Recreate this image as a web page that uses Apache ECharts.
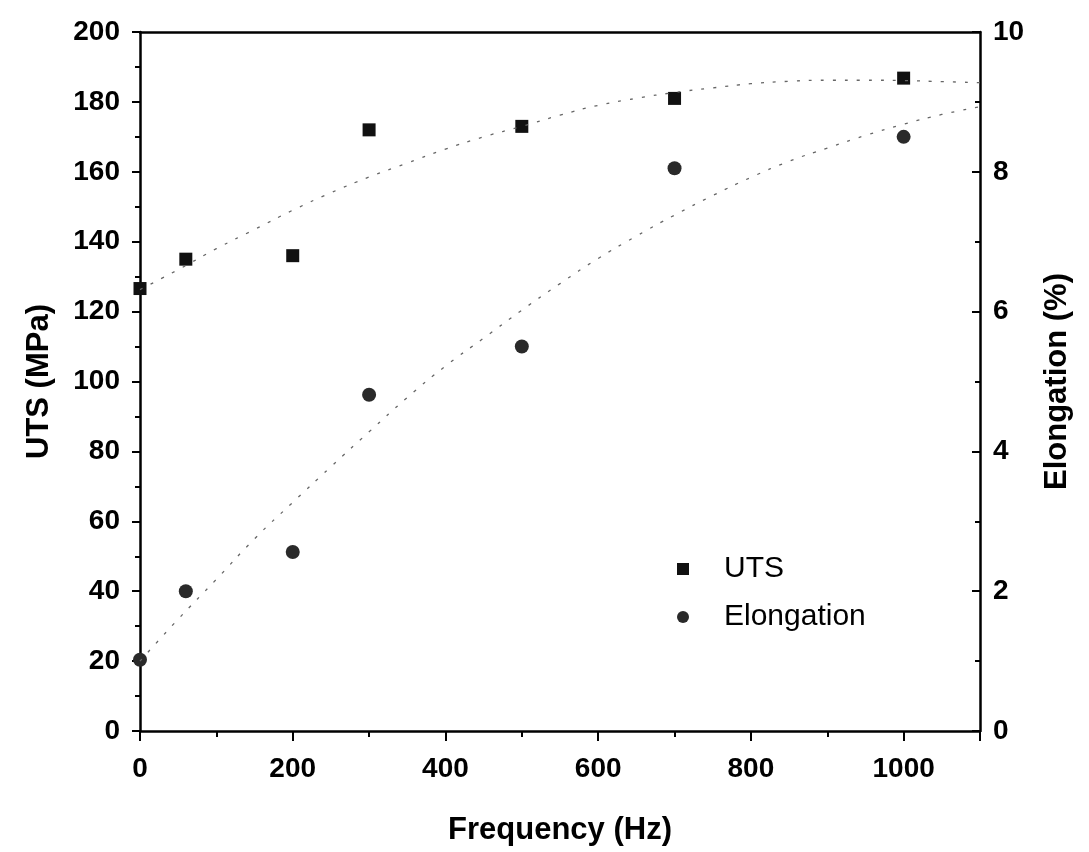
<!DOCTYPE html>
<html>
<head>
<meta charset="utf-8">
<script src="https://cdn.jsdelivr.net/npm/echarts@6/dist/echarts.min.js"></script>
<style>
html,body{margin:0;padding:0;background:#fff;}
#main{width:1089px;height:852px;}
</style>
</head>
<body>
<div id="main"></div>
<script>
// measured points
var freqs = [0, 60, 200, 300, 500, 700, 1000];
var uts = [126.6, 135, 136, 172, 173, 181, 186.8];
var elong = [1.02, 2.0, 2.56, 4.81, 5.5, 8.05, 8.5];

// fit curves
var fitFreq = [0, 50, 100, 150, 200, 250, 300, 350, 400, 450, 500, 550, 600, 650, 700, 750, 800, 850, 900, 950, 1000, 1050, 1100];
var utsFit = [126.3, 132, 138, 143.5, 149, 154, 158.5, 162.5, 166.5, 170, 173, 176.2, 179, 181, 182.7, 184, 185.2, 185.9, 186.2, 186.2, 186.1, 185.8, 185.5];
var elongFit = [1.0, 1.6, 2.17, 2.75, 3.27, 3.78, 4.28, 4.77, 5.22, 5.62, 6.02, 6.4, 6.76, 7.08, 7.38, 7.66, 7.92, 8.15, 8.34, 8.52, 8.68, 8.82, 8.93];

function pairs(xs, ys){
	var out = [];
	for(var i=0;i<xs.length;i++){
		out.push([xs[i], ys[i]]);
	}
	return out;
}

var font = 'Liberation Sans, Arial, sans-serif';
var axisLine = {show:true, onZero:false, lineStyle:{color:'#000', width:2.5}};
var lbl = {color:'#000', fontFamily:font, fontWeight:'bold', fontSize:28};
var nameStyle = {color:'#000', fontFamily:font, fontWeight:'bold', fontSize:31};

var chart = echarts.init(document.getElementById('main'));
var options = {
	animation:false,
	backgroundColor:'#fff',
	grid:{left:140, right:109, top:32, bottom:121, containLabel:false},
	legend:{
		data:['UTS','Elongation'],
		orient:'vertical',
		left:672, top:549,
		itemWidth:12, itemHeight:12, itemGap:18,
		textStyle:{color:'#000', fontFamily:font, fontSize:30, padding:[0,0,0,30]}
	},
	xAxis:[{
		type:'value', min:0, max:1100, interval:200,
		name:'Frequency (Hz)', nameLocation:'middle', nameGap:84, nameTextStyle:nameStyle,
		axisLine:axisLine,
		axisTick:{show:true, inside:false, length:10, lineStyle:{color:'#000', width:2}},
		minorTick:{show:true, splitNumber:2, length:6, lineStyle:{color:'#000', width:2}},
		axisLabel:Object.assign({margin:24, formatter:function(v){ return v % 200 === 0 ? v : ''; }}, lbl),
		splitLine:{show:false}
	},{
		type:'value', min:0, max:1100, position:'top',
		axisLine:axisLine, axisTick:{show:false}, axisLabel:{show:false}, splitLine:{show:false}
	}],
	yAxis:[{
		type:'value', min:0, max:200, interval:20, position:'left',
		name:'UTS (MPa)', nameLocation:'middle', nameGap:85, nameTextStyle:nameStyle,
		axisLine:axisLine,
		axisTick:{show:true, length:8, lineStyle:{color:'#000', width:2}},
		minorTick:{show:true, splitNumber:2, length:5, lineStyle:{color:'#000', width:2}},
		axisLabel:Object.assign({margin:20}, lbl),
		splitLine:{show:false}
	},{
		type:'value', min:0, max:10, interval:2, position:'right',
		name:'Elongation (%)', nameLocation:'middle', nameGap:62, nameTextStyle:nameStyle,
		axisLine:axisLine,
		axisTick:{show:true, inside:true, length:8, lineStyle:{color:'#000', width:2}},
		minorTick:{show:true, splitNumber:2, length:5, lineStyle:{color:'#000', width:2}},
		axisLabel:Object.assign({margin:13}, lbl),
		splitLine:{show:false}
	}],
	series:[{
		name:'UTS fit', type:'line', smooth:true, showSymbol:false, silent:true,
		data:pairs(fitFreq, utsFit),
		lineStyle:{color:'#666', width:1.3, type:[3,9]}
	},{
		name:'Elongation fit', type:'line', yAxisIndex:1, smooth:true, showSymbol:false, silent:true,
		data:pairs(fitFreq, elongFit),
		lineStyle:{color:'#666', width:1.3, type:[3,9]}
	},{
		name:'UTS', type:'scatter', symbol:'rect', symbolSize:13,
		data:pairs(freqs, uts),
		itemStyle:{color:'#111', opacity:1}
	},{
		name:'Elongation', type:'scatter', symbol:'circle', symbolSize:14, yAxisIndex:1,
		data:pairs(freqs, elong),
		itemStyle:{color:'#2a2a2a', opacity:1}
	}]
};
chart.setOption(options);
</script>
</body>
</html>
